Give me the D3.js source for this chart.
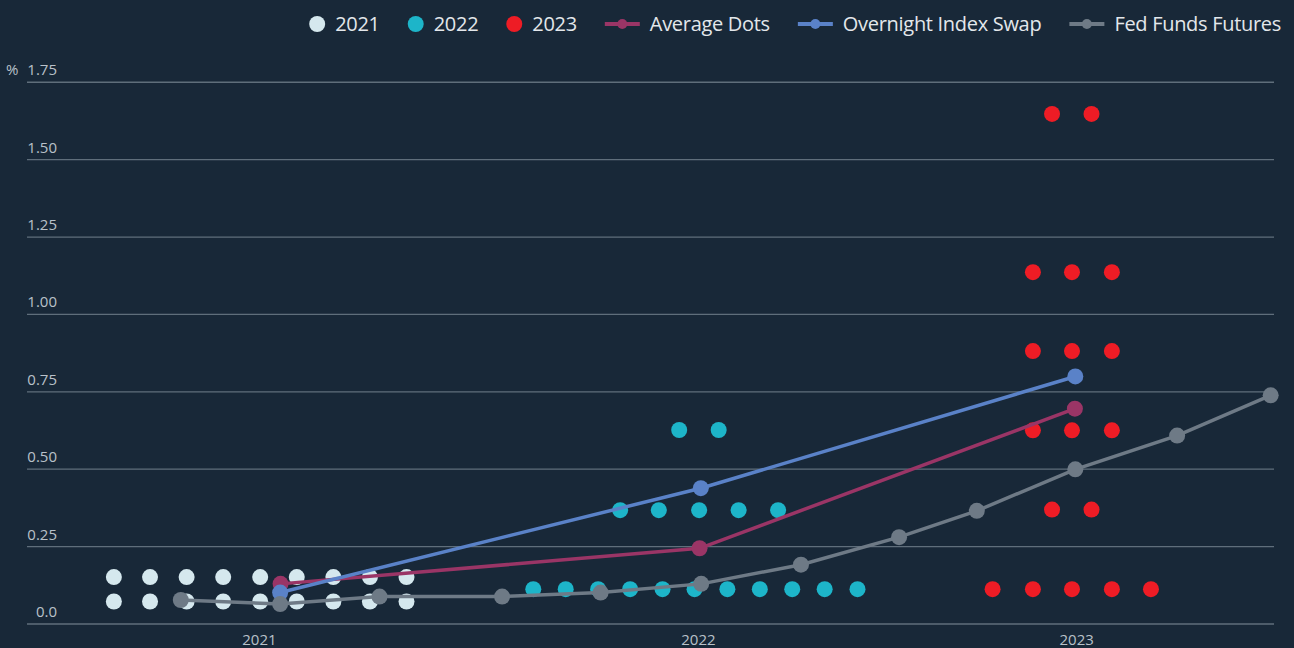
<!DOCTYPE html>
<html>
<head>
<meta charset="utf-8">
<script src="https://cdn.jsdelivr.net/npm/d3@7"></script>
<style>
  body { margin: 0; background: #182838; }
  svg { display: block; }
  .axis text { font-family: 'Open Sans', sans-serif; font-size: 15px; fill: #b9c1c9; }
  .legend text { font-family: 'Open Sans', sans-serif; font-size: 20px; letter-spacing: -0.3px; fill: #e3e7eb; }
</style>
</head>
<body>
<svg class="chart"></svg>
<script>
// ticks
const yTickValues = [0, 0.25, 0.5, 0.75, 1, 1.25, 1.5, 1.75];
const yTickLabels = ["0.0", "0.25", "0.50", "0.75", "1.00", "1.25", "1.50", "1.75"];
const xTickValues = [2021.058, 2022.114, 2023.024];
const xTickLabels = ["2021", "2022", "2023"];

// dot plot: [x position (year), rate %]
const dots2021 = [
  [2020.709, 0.150], [2020.796, 0.150], [2020.884, 0.150], [2020.972, 0.150], [2021.061, 0.150],
  [2021.149, 0.150], [2021.237, 0.150], [2021.325, 0.150], [2021.413, 0.150],
  [2020.709, 0.071], [2020.796, 0.071], [2020.884, 0.071], [2020.972, 0.071], [2021.061, 0.071],
  [2021.149, 0.071], [2021.237, 0.071], [2021.325, 0.071], [2021.413, 0.071]
];
const dots2022 = [
  [2022.069, 0.625], [2022.164, 0.625],
  [2021.927, 0.366], [2022.020, 0.366], [2022.117, 0.366], [2022.212, 0.366], [2022.307, 0.366],
  [2021.718, 0.111], [2021.796, 0.111], [2021.874, 0.111], [2021.951, 0.111], [2022.029, 0.111],
  [2022.106, 0.111], [2022.185, 0.111], [2022.263, 0.111], [2022.341, 0.111], [2022.419, 0.111],
  [2022.498, 0.111]
];
const dots2023 = [
  [2022.966, 1.646], [2023.061, 1.646],
  [2022.920, 1.135], [2023.014, 1.135], [2023.110, 1.135],
  [2022.920, 0.880], [2023.014, 0.880], [2023.110, 0.880],
  [2022.920, 0.624], [2023.014, 0.624], [2023.110, 0.624],
  [2022.966, 0.368], [2023.061, 0.368],
  [2022.823, 0.111], [2022.920, 0.111], [2023.014, 0.111], [2023.110, 0.111], [2023.204, 0.111]
];

// lines
const averageDots = [[2021.110, 0.128], [2022.118, 0.243], [2023.021, 0.694]];
const overnightIndexSwap = [[2021.109, 0.100], [2022.121, 0.437], [2023.022, 0.798]];
const fedFundsFutures = [
  [2020.870, 0.076], [2021.109, 0.063], [2021.348, 0.087], [2021.643, 0.087],
  [2021.880, 0.100], [2022.122, 0.128], [2022.362, 0.190], [2022.598, 0.279],
  [2022.785, 0.364], [2023.022, 0.498], [2023.267, 0.607], [2023.492, 0.737]
];

const width = 1294, height = 648;
let margin = {top: 81.75, right: 20, bottom: 24.5, left: 27};
let widthChart = width - margin.left - margin.right;

const svg = d3.select(".chart").attr("width", width).attr("height", height);
svg.append("rect").attr("width", width).attr("height", height).attr("fill", "#182838");

let x = d3.scaleLinear().domain([2020.5, 2023.5]).range([margin.left, width - margin.right]);
let y = d3.scaleLinear().domain([0, 1.75]).range([height - margin.bottom, margin.top]);

/* axes */
let yAxis = d3.axisLeft(y).tickValues(yTickValues).tickSize(-widthChart)
  .tickFormat((d, i) => yTickLabels[i]);
let gy = svg.append("g").attr("class", "axis")
  .attr("transform", "translate(" + margin.left + ",0)")
  .call(yAxis);
gy.select(".domain").remove();
gy.selectAll("line").attr("stroke", "#5f6e7b").attr("stroke-width", 1.3);
gy.selectAll("text").attr("x", 30).attr("dy", -7).attr("text-anchor", "end");
svg.append("text").text("%")
  .attr("x", 6).attr("y", y(1.75) - 7)
  .style("font-family", "'Open Sans', sans-serif").style("font-size", "15px").attr("fill", "#b9c1c9");

let xAxis = d3.axisBottom(x).tickValues(xTickValues).tickSize(0)
  .tickFormat((d, i) => xTickLabels[i]);
let gx = svg.append("g").attr("class", "axis")
  .attr("transform", "translate(0," + y(0) + ")")
  .call(xAxis);
gx.select(".domain").remove();
gx.selectAll("text").attr("y", 21.5).attr("dy", 0);

/* dots */
const dotSeries = [
  {data: dots2021, color: "#d5e8ee"},
  {data: dots2022, color: "#1db5c9"},
  {data: dots2023, color: "#ee1c25"}
];
dotSeries.forEach(function(s) {
  svg.append("g").selectAll("circle")
    .data(s.data)
    .enter().append("circle")
    .attr("cx", d => x(d[0]))
    .attr("cy", d => y(d[1]))
    .attr("r", 8)
    .attr("fill", s.color);
});

/* lines */
const lineSeries = [
  {data: averageDots, color: "#9a3566"},
  {data: overnightIndexSwap, color: "#5a82c8"},
  {data: fedFundsFutures, color: "#6e7a86"}
];
let line = d3.line().x(d => x(d[0])).y(d => y(d[1]));
lineSeries.forEach(function(s) {
  let g = svg.append("g");
  g.append("path").datum(s.data)
    .attr("d", line)
    .attr("fill", "none")
    .attr("stroke", s.color)
    .attr("stroke-width", 3.5);
  g.selectAll("circle").data(s.data)
    .enter().append("circle")
    .attr("cx", d => x(d[0]))
    .attr("cy", d => y(d[1]))
    .attr("r", 8)
    .attr("fill", s.color);
});

/* legend */
const legendItems = [
  {name: "2021", color: "#d5e8ee", type: "dot"},
  {name: "2022", color: "#1db5c9", type: "dot"},
  {name: "2023", color: "#ee1c25", type: "dot"},
  {name: "Average Dots", color: "#9a3566", type: "line"},
  {name: "Overnight Index Swap", color: "#5a82c8", type: "line"},
  {name: "Fed Funds Futures", color: "#6e7a86", type: "line"}
];
let legend = svg.append("g").attr("class", "legend");
let items = legendItems.map(function(d) {
  let g = legend.append("g");
  let symW = d.type === "dot" ? 16 : 35;
  if (d.type === "dot") {
    g.append("circle").attr("cx", 8).attr("cy", 0).attr("r", 8).attr("fill", d.color);
  } else {
    g.append("line").attr("x1", 0).attr("x2", 35).attr("y1", 0).attr("y2", 0)
      .attr("stroke", d.color).attr("stroke-width", 4);
    g.append("circle").attr("cx", 17.5).attr("cy", 0).attr("r", 5).attr("fill", d.color);
  }
  let t = g.append("text").text(d.name).attr("x", symW + 10).attr("y", 7);
  return {g: g, w: symW + 10 + t.node().getComputedTextLength()};
});
let total = d3.sum(items, d => d.w) + 28 * (items.length - 1);
let cx = 1281 - total;
items.forEach(function(it) {
  it.g.attr("transform", "translate(" + cx + ",24)");
  cx += it.w + 28;
});
</script>
</body>
</html>
